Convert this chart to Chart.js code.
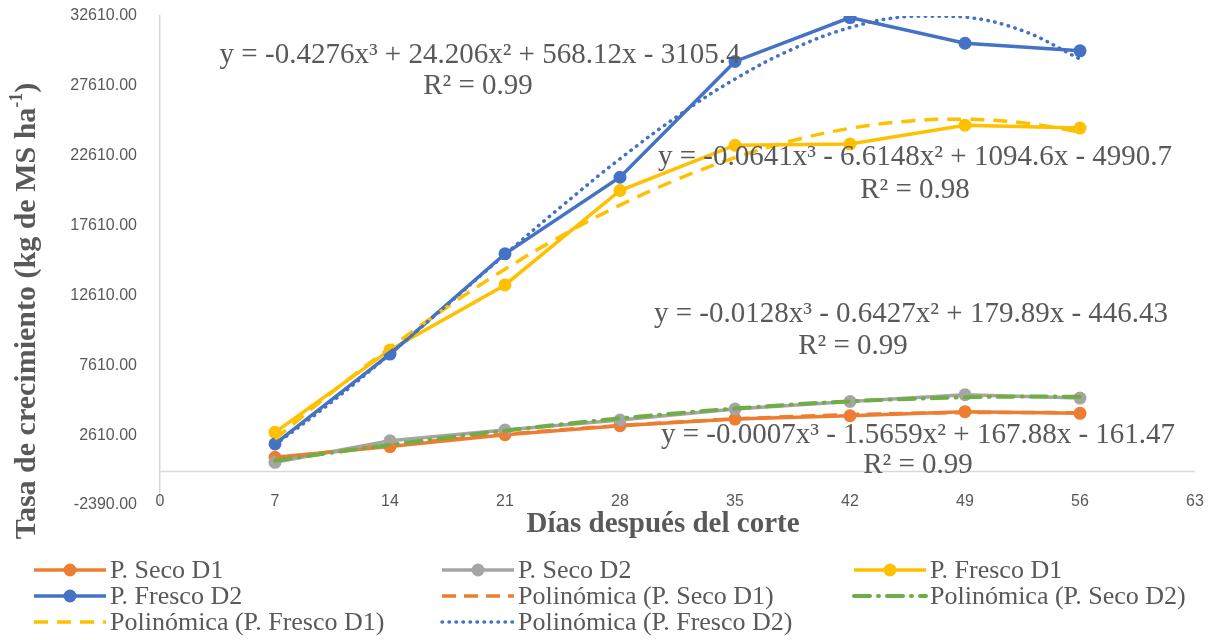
<!DOCTYPE html>
<html lang="es">
<head>
<meta charset="UTF-8">
<title>Tasa de crecimiento</title>
<script src="https://cdn.jsdelivr.net/npm/chart.js@4.4.1/dist/chart.umd.min.js"></script>
<style>
    html, body { margin: 0; padding: 0; background: #ffffff; }
    #wrap { width: 1211px; height: 640px; }
</style>
</head>
<body>
<div id="wrap"><canvas id="growthChart" width="1211" height="640"></canvas></div>
<script>
// =============================================
// DATA
// =============================================

const days     = [7, 14, 21, 28, 35, 42, 49, 56];
const secoD1   = [1020, 1790, 2640, 3290, 3760, 4000, 4290, 4170];
const secoD2   = [665, 2210, 2980, 3690, 4480, 5020, 5500, 5260];
const frescoD1 = [2810, 8710, 13360, 20120, 23360, 23450, 24790, 24590];
const frescoD2 = [1980, 8410, 15590, 21070, 29360, 32500, 30660, 30120];

// trend curves, sampled every 3.5 days
const trendDays     = [7, 10.5, 14, 17.5, 21, 24.5, 28, 31.5, 35, 38.5, 42, 45.5, 49, 52.5, 56];
const trendSecoD1   = [940, 1430, 1880, 2290, 2670, 3000, 3300, 3550, 3770, 3940, 4080, 4170, 4220, 4230, 4210];
const trendSecoD2   = [780, 1360, 1910, 2440, 2930, 3390, 3810, 4180, 4510, 4800, 5030, 5200, 5320, 5370, 5360];
const trendFrescoD1 = [2330, 5700, 8860, 11800, 14490, 16910, 19070, 20920, 22470, 23690, 24570, 25080, 25220, 24970, 24310];
const trendFrescoD2 = [1910, 5030, 8420, 11960, 15540, 19050, 22390, 25440, 28100, 30240, 31780, 32580, 32540, 31560, 29530];

const xTicks = [0, 7, 14, 21, 28, 35, 42, 49, 56, 63];
const yTicks = [-2390, 2610, 7610, 12610, 17610, 22610, 27610, 32610];

const equationLines = [
    "y = -0.4276x³ + 24.206x² + 568.12x - 3105.4", "R² = 0.99",
    "y = -0.0641x³ - 6.6148x² + 1094.6x - 4990.7", "R² = 0.98",
    "y = -0.0128x³ - 0.6427x² + 179.89x - 446.43", "R² = 0.99",
    "y = -0.0007x³ - 1.5659x² + 167.88x - 161.47", "R² = 0.99"
];

// =============================================
// COLOURS / FONTS
// =============================================

const ORANGE = "#ED7D31";
const GRAY   = "#A5A5A5";
const YELLOW = "#FFC000";
const BLUE   = "#4472C4";
const GREEN  = "#70AD47";
const TEXT   = "#595959";

const SANS  = "'Liberation Sans', Arial, sans-serif";
const SERIF = "'Liberation Serif', 'Times New Roman', serif";

function pts(xs, ys) {
    return xs.map((x, i) => ({ x: x, y: ys[i] }));
}

function seriesSet(label, values, color, order) {
    return {
        label: label,
        data: pts(days, values),
        borderColor: color,
        backgroundColor: color,
        pointBackgroundColor: color,
        pointBorderColor: color,
        pointRadius: 6.5,
        pointBorderWidth: 0,
        borderWidth: 3.5,
        tension: 0,
        order: order,
        legendStyle: "marker"
    };
}

function trendSet(label, values, color, dash, cap, width, order) {
    return {
        label: label,
        data: pts(trendDays, values),
        borderColor: color,
        backgroundColor: color,
        borderDash: dash,
        borderCapStyle: cap,
        borderWidth: width,
        pointRadius: 0,
        tension: 0.4,
        order: order,
        legendStyle: "line"
    };
}

const datasets = [
    seriesSet("P. Seco D1", secoD1, ORANGE, 8),
    seriesSet("P. Seco D2", secoD2, GRAY, 7),
    seriesSet("P. Fresco D1", frescoD1, YELLOW, 6),
    seriesSet("P. Fresco D2", frescoD2, BLUE, 5),
    trendSet("Polinómica (P. Seco D1)", trendSecoD1, ORANGE, [14, 8], "butt", 3.5, 4),
    trendSet("Polinómica (P. Seco D2)", trendSecoD2, GREEN, [16, 8, 1, 8], "round", 4, 3),
    trendSet("Polinómica (P. Fresco D1)", trendFrescoD1, YELLOW, [14, 9], "butt", 3.5, 2),
    trendSet("Polinómica (P. Fresco D2)", trendFrescoD2, BLUE, [0.5, 6.5], "round", 3.5, 1)
];

// =============================================
// OVERLAY: zero line, x labels, titles, equations, legend
// =============================================

const equationPos = [
    [480, 55], [478, 86],
    [915, 157], [915, 190],
    [911, 314], [853, 346],
    [918, 435], [918, 465]
];

const legendCols = [110, 518, 930];
const legendRows = [570, 596, 622];

const overlayPlugin = {
    id: "overlay",

    beforeDatasetsDraw(chart) {
        const ctx = chart.ctx;
        const area = chart.chartArea;
        const y0 = chart.scales.y.getPixelForValue(0);
        ctx.save();
        ctx.strokeStyle = "#d9d9d9";
        ctx.lineWidth = 1.5;
        ctx.beginPath();
        ctx.moveTo(area.left, y0);
        ctx.lineTo(area.right, y0);
        ctx.stroke();

        // x tick labels sit level with the lowest y label
        ctx.fillStyle = TEXT;
        ctx.font = "16px " + SANS;
        ctx.textAlign = "center";
        ctx.textBaseline = "middle";
        xTicks.forEach(v => {
            ctx.fillText(String(v), chart.scales.x.getPixelForValue(v), 502);
        });
        ctx.restore();
    },

    afterDraw(chart) {
        const ctx = chart.ctx;
        ctx.save();
        ctx.fillStyle = TEXT;

        // x title
        ctx.font = "bold 29px " + SERIF;
        ctx.textAlign = "center";
        ctx.textBaseline = "middle";
        ctx.fillText("Días después del corte", 663, 525);

        // y title with superscript
        ctx.save();
        ctx.translate(27, 311);
        ctx.rotate(-Math.PI / 2);
        const main = "Tasa de crecimiento (kg de MS ha";
        const big = "bold 30px " + SERIF;
        const small = "bold 18px " + SERIF;
        ctx.font = big;
        const wMain = ctx.measureText(main).width;
        const wClose = ctx.measureText(")").width;
        ctx.font = small;
        const wSup = ctx.measureText("-1").width;
        const total = wMain + wSup + wClose;
        let x = -total / 2;
        ctx.textAlign = "left";
        ctx.font = big;
        ctx.fillText(main, x, 0);
        x += wMain;
        ctx.font = small;
        ctx.fillText("-1", x, -10);
        x += wSup;
        ctx.font = big;
        ctx.fillText(")", x, 0);
        ctx.restore();

        // equations
        ctx.font = "29px " + SERIF;
        ctx.textAlign = "center";
        ctx.textBaseline = "middle";
        equationLines.forEach((line, i) => {
            ctx.fillText(line, equationPos[i][0], equationPos[i][1]);
        });

        // legend
        ctx.font = "26px " + SERIF;
        ctx.textAlign = "left";
        chart.data.datasets.forEach((ds, i) => {
            const tx = legendCols[i % 3];
            const ty = legendRows[Math.floor(i / 3)];
            const x1 = tx - 76;
            const x2 = tx - 4;
            ctx.save();
            ctx.strokeStyle = ds.borderColor;
            ctx.lineWidth = ds.borderWidth;
            ctx.lineCap = ds.borderCapStyle || "butt";
            ctx.setLineDash(ds.borderDash || []);
            ctx.beginPath();
            ctx.moveTo(x1, ty);
            ctx.lineTo(x2, ty);
            ctx.stroke();
            if (ds.legendStyle === "marker") {
                ctx.fillStyle = ds.borderColor;
                ctx.beginPath();
                ctx.arc((x1 + x2) / 2, ty, 6.5, 0, Math.PI * 2);
                ctx.fill();
            }
            ctx.restore();
            ctx.fillText(ds.label, tx, ty + 1);
        });

        ctx.restore();
    }
};

// =============================================
// CHART
// =============================================

new Chart(document.getElementById("growthChart"), {
    type: "line",
    data: { datasets: datasets },
    options: {
        responsive: false,
        devicePixelRatio: 1,
        animation: false,
        layout: { padding: { top: 16, right: 16, left: 0, bottom: 0 } },
        plugins: {
            legend: { display: false },
            tooltip: { enabled: false }
        },
        scales: {
            x: {
                type: "linear",
                min: 0,
                max: 63,
                afterBuildTicks: s => { s.ticks = xTicks.map(v => ({ value: v })); },
                afterFit: s => {
                    s.height = 135;
                    s.paddingLeft = 0;
                    s.paddingRight = 0;
                },
                ticks: { display: false },
                grid: { display: false, drawTicks: false },
                border: { display: false }
            },
            y: {
                type: "linear",
                min: -2390,
                max: 32610,
                afterBuildTicks: s => { s.ticks = yTicks.map(v => ({ value: v })); },
                afterFit: s => {
                    s.width = 160;
                    s.paddingTop = 0;
                    s.paddingBottom = 0;
                },
                ticks: {
                    color: TEXT,
                    font: { family: SANS, size: 16 },
                    padding: 23,
                    callback: v => Number(v).toFixed(2)
                },
                grid: { display: false, drawTicks: false },
                border: { display: true, color: "#d9d9d9", width: 1.5 }
            }
        }
    },
    plugins: [overlayPlugin]
});
</script>
</body>
</html>
